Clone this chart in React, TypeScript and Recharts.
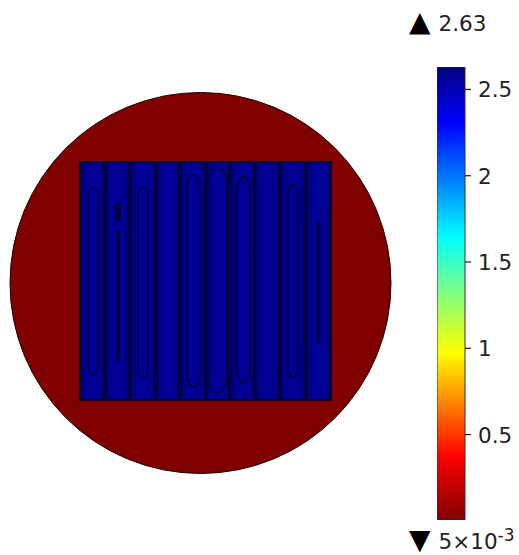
import { BarChart, Bar, ComposedChart, XAxis, YAxis, ReferenceArea, ReferenceLine } from "recharts";

// colour bar
const barRange = [0.005, 2.63];
const barTicks = [0.5, 1, 1.5, 2, 2.5];
const barRows = [{ name: "u", range: barRange }];

// disc, in px-like model units
const discRadius = 190.5;

// plates: left / right edge of each one, and the common top / bottom
const plateEdges = [-120.5, -95.5, -70.5, -44.5, -20.5, 5.5, 29.5, 54.5, 79.5, 105.5, 130.5];
const plateTop = 121;
const plateBottom = -117;

// open slots inside the plates
const slotLeft = [-112.5, -62.5, -13.5, 7.5, 36.5, 87.5];
const slotRight = [-102.5, -52.5, -0.5, 26.5, 49.5, 97.5];
const slotTop = [95, 96, 108, 116, 106, 98];
const slotBottom = [-92, -95, -104, -110, -100, -94];

// narrow dark slots: plate 2 (upper blob and long part) and plate 10
const crackLeft = [-85.5, -84, 116.5];
const crackRight = [-79.5, -80.5, 120];
const crackTop = [81, 53, 61];
const crackBottom = [61, -79, -62];

const Disc = (p: any) => (
  <ellipse cx={p.x + p.width / 2} cy={p.y + p.height / 2} rx={p.width / 2} ry={p.height / 2}
    fill="#800000" stroke="#200000" strokeWidth={1} />
);

const Plate = (p: any) => (
  <rect x={p.x} y={p.y} width={p.width} height={p.height} fill="url(#plateFill)" />
);

const Outline = (p: any) => (
  <rect x={p.x} y={p.y} width={p.width} height={p.height} fill="none" stroke="#000030" strokeWidth={1.6} />
);

const Slot = (p: any) => (
  <rect x={p.x} y={p.y} width={p.width} height={p.height} rx={p.width / 2} ry={p.width}
    fill="none" stroke="#000048" strokeWidth={1.8} />
);

const Crack = (p: any) => (
  <rect x={p.x} y={p.y} width={p.width} height={p.height} rx={p.width / 2} ry={p.width}
    fill="#000040" />
);

const ColorTick = (p: any) => (
  <text x={p.x + 5} y={p.y + 8} fontSize={21.5} fill="#222" fontFamily="DejaVu Sans">{p.payload.value}</text>
);

const TickPair = (p: any) => (
  <g stroke="#301010" strokeWidth={1.2}>
    <line x1={p.x1} x2={p.x1 + 6} y1={p.y1} y2={p.y1} />
    <line x1={p.x2 - 6} x2={p.x2} y1={p.y1} y2={p.y1} />
  </g>
);

export default function App() {
  return (
    <div style={{ position: "absolute", left: 0, top: 0, width: 519, height: 555, overflow: "hidden", background: "#fff", fontFamily: "DejaVu Sans", color: "#222" }}>
      <div style={{ position: "absolute", left: 0, top: 83 }}>
        <ComposedChart width={401} height={400} margin={{ top: 0, right: 0, bottom: 0, left: 0 }} data={[{ x: 0 }]}>
          <defs>
            <linearGradient id="plateFill" x1="0" y1="0" x2="1" y2="0">
              <stop offset="0" stopColor="#000030" />
              <stop offset="0.05" stopColor="#000048" />
              <stop offset="0.13" stopColor="#00008c" />
              <stop offset="0.5" stopColor="#00009a" />
              <stop offset="0.87" stopColor="#00008c" />
              <stop offset="0.95" stopColor="#000048" />
              <stop offset="1" stopColor="#000030" />
            </linearGradient>
          </defs>
          <XAxis type="number" dataKey="x" hide domain={[-200.5, 200.5]} allowDataOverflow />
          <YAxis type="number" hide domain={[-200, 200]} allowDataOverflow />
          <ReferenceArea x1={-discRadius} x2={discRadius} y1={-discRadius} y2={discRadius} shape={Disc} />
          {plateEdges.slice(0, -1).map((x, i) => (
            <ReferenceArea key={i} x1={x} x2={plateEdges[i + 1]} y1={plateBottom} y2={plateTop} shape={Plate} />
          ))}
          <ReferenceArea x1={plateEdges[0]} x2={plateEdges[10]} y1={plateBottom} y2={plateTop} shape={Outline} />
          {slotLeft.map((x, i) => (
            <ReferenceArea key={i} x1={x} x2={slotRight[i]} y1={slotBottom[i]} y2={slotTop[i]} shape={Slot} />
          ))}
          {crackLeft.map((x, i) => (
            <ReferenceArea key={i} x1={x} x2={crackRight[i]} y1={crackBottom[i]} y2={crackTop[i]} shape={Crack} />
          ))}
        </ComposedChart>
      </div>

      <div style={{ position: "absolute", left: 437, top: 67 }}>
        <BarChart width={82} height={453} data={barRows} margin={{ top: 0, right: 0, bottom: 0, left: 0 }} barCategoryGap={0}>
          <defs>
            <linearGradient id="jet" x1="0" y1="0" x2="0" y2="1">
              <stop offset="0" stopColor="#00007f" />
              <stop offset="0.124" stopColor="#0000ff" />
              <stop offset="0.376" stopColor="#00ffff" />
              <stop offset="0.5" stopColor="#7fff7f" />
              <stop offset="0.63" stopColor="#ffff00" />
              <stop offset="0.86" stopColor="#ff0000" />
              <stop offset="1" stopColor="#7f0000" />
            </linearGradient>
          </defs>
          <XAxis dataKey="name" hide />
          <YAxis orientation="right" type="number" width={54} domain={barRange} ticks={barTicks} axisLine={false} tickLine={false} tick={ColorTick} interval={0} allowDataOverflow />
          <Bar dataKey="range" fill="url(#jet)" stroke="#333" strokeWidth={1} isAnimationActive={false} />
          {barTicks.map((v) => <ReferenceLine key={v} y={v} shape={TickPair} />)}
        </BarChart>
      </div>

      <div style={{ position: "absolute", left: 409, top: 8, fontSize: 21.5, lineHeight: "28px", whiteSpace: "nowrap" }}>
        <span style={{ fontSize: 28, color: "#000", marginRight: 8 }}>▲</span>2.63
      </div>
      <div style={{ position: "absolute", left: 409, top: 526, fontSize: 21.5, lineHeight: "28px", whiteSpace: "nowrap" }}>
        <span style={{ fontSize: 28, color: "#000", marginRight: 8 }}>▼</span>5×10<sup style={{ fontSize: 17, lineHeight: 0 }}>-3</sup>
      </div>
    </div>
  );
}
